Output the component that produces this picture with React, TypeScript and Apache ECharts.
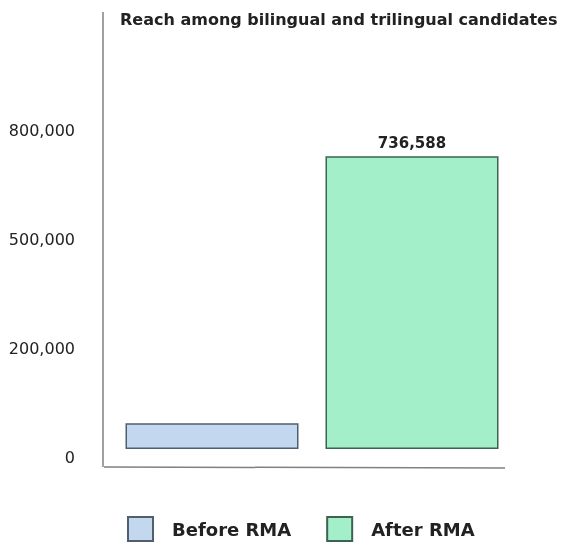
import React, { useEffect, useRef } from "react";
import * as echarts from "echarts";

const title = "Reach among bilingual and trilingual candidates";
const categories = ["Before RMA", "After RMA"];
const seriesNames = ["Before RMA", "After RMA"];
const values = [65000, 736588];
const valueLabels = ["", "736,588"];
const tickLabels = ["0", "200,000", "500,000", "800,000"];
const yMax = 800000;

const FONT = "DejaVu Sans";

export default function App() {
  const ref = useRef<HTMLDivElement>(null);
  useEffect(() => {
    if (!ref.current) return;
    const chart = echarts.init(ref.current, undefined, { renderer: "svg" });
    const fills = ["#c3d8ee", "#a3efca"];
    const borders = ["#4f5f6e", "#3b6350"];
    const step = yMax / 3;
    chart.setOption({
      animation: false,
      title: {
        text: title,
        left: 115,
        top: 6,
        textStyle: { fontFamily: FONT, fontSize: 16, fontWeight: "bold", color: "#222" },
      },
      grid: [
        { left: 112, right: 50, top: 131, bottom: 95 },
        { left: 112, right: 50, top: 130, bottom: 87 },
      ],
      legend: {
        left: 127,
        top: 516,
        padding: 0,
        itemWidth: 25,
        itemHeight: 24,
        itemGap: 35,
        icon: "rect",
        textStyle: { fontFamily: FONT, fontSize: 18, fontWeight: "bold", color: "#222", padding: [0, 0, 0, 14] },
        data: seriesNames,
      },
      xAxis: [
        {
          type: "category",
          gridIndex: 0,
          data: categories,
          axisLine: { show: false },
          axisTick: { show: false },
          axisLabel: { show: false },
        },
        {
          type: "category",
          gridIndex: 1,
          data: categories,
          show: false,
        },
      ],
      yAxis: [
        {
          type: "value",
          gridIndex: 0,
          min: 0,
          max: yMax,
          interval: step,
          axisLine: { show: false },
          axisTick: { show: false },
          splitLine: { show: false },
          axisLabel: { show: false },
        },
        {
          type: "value",
          gridIndex: 1,
          min: 0,
          max: yMax,
          interval: step,
          axisLine: { show: false },
          axisTick: { show: false },
          splitLine: { show: false },
          axisLabel: {
            margin: 37,
            fontFamily: FONT,
            fontSize: 16,
            color: "#222",
            formatter: (v: number) => tickLabels[Math.round(v / step)] ?? "",
          },
        },
      ],
      graphic: [
        { type: "line", shape: { x1: 103, y1: 12, x2: 103, y2: 467 }, style: { stroke: "#808080", lineWidth: 1.5 } },
        { type: "line", shape: { x1: 104, y1: 467, x2: 505, y2: 468 }, style: { stroke: "#808080", lineWidth: 1.5 } },
      ],
      series: seriesNames.map((name, i) => ({
        name,
        type: "bar",
        stack: "all",
        barWidth: 173,
        xAxisIndex: 0,
        yAxisIndex: 0,
        data: values.map((v, j) => (j === i ? v : null)),
        itemStyle: { color: fills[i], borderColor: borders[i], borderWidth: 1.5 },
        label: {
          show: valueLabels[i] !== "",
          position: "top",
          distance: 6,
          formatter: () => valueLabels[i],
          fontFamily: FONT,
          fontSize: 15,
          fontWeight: "bold",
          color: "#222",
        },
      })),
    });
    return () => chart.dispose();
  }, []);
  return <div ref={ref} style={{ position: "fixed", left: 0, top: 0, width: 562, height: 544 }} />;
}
